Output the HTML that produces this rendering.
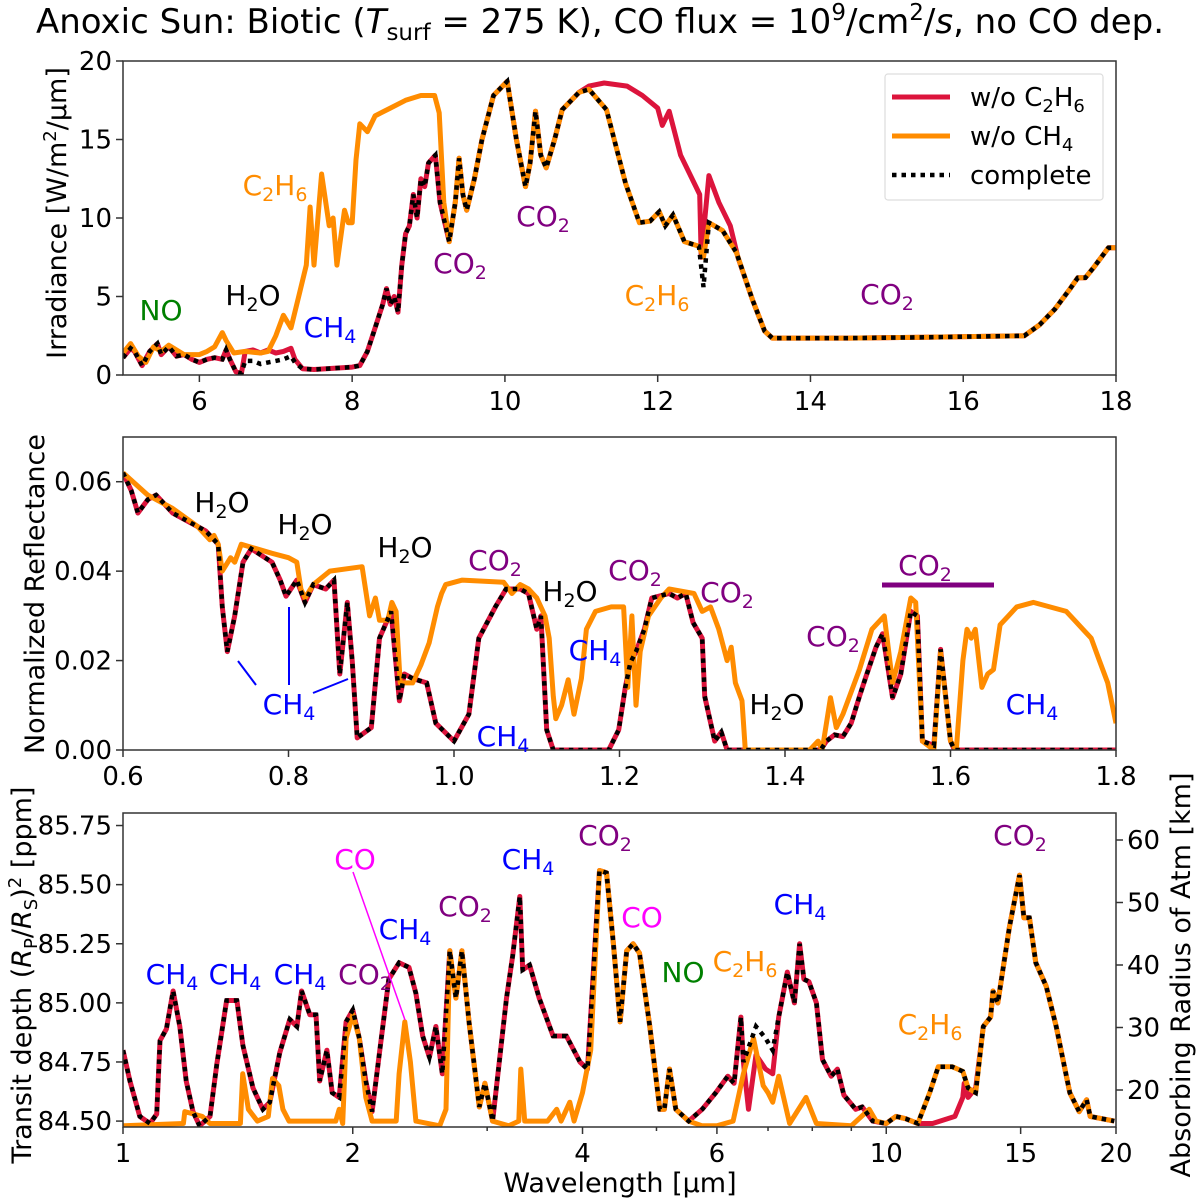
<!DOCTYPE html>
<html><head><meta charset="utf-8"><style>
body{margin:0;background:#fff}
svg{display:block;font-family:"DejaVu Sans","Liberation Sans",sans-serif}
</style></head><body>
<svg id="chart" width="1200" height="1199" viewBox="0 0 1200 1199" xmlns="http://www.w3.org/2000/svg">
<text x="600" y="33" font-size="34" text-anchor="middle">Anoxic Sun: Biotic (<tspan font-style="italic">T</tspan><tspan font-size="23" dy="7">surf</tspan><tspan dy="-7"> = 275 K), CO flux = 10</tspan><tspan font-size="23" dy="-13">9</tspan><tspan dy="13">/cm</tspan><tspan font-size="23" dy="-13">2</tspan><tspan dy="13">/</tspan><tspan font-style="italic">s</tspan>, no CO dep.</text>
<g id="p1"></g>
<g id="p2"></g>
<g id="p3"></g>
</svg>
<script>
// ---------- Panel 1 data (irradiance) ----------
const irrCompleteX=[5.0,5.1,5.15,5.25,5.35,5.45,5.5,5.6,5.7,5.8,5.9,6.0,6.1,6.2,6.3,6.35,6.4,6.48,6.55,6.6,6.7,6.8,6.9,7.0,7.1,7.2,7.25,7.35,7.5,8.0,8.1,8.2,8.3,8.4,8.45,8.5,8.55,8.6,8.65,8.7,8.75,8.8,8.85,8.9,8.95,9.0,9.09,9.15,9.27,9.35,9.4,9.45,9.5,9.6,9.7,9.85,10.03,10.15,10.27,10.33,10.4,10.47,10.54,10.65,10.75,10.97,11.1,11.33,11.58,11.76,11.9,12.02,12.1,12.2,12.35,12.54,12.6,12.67,12.85,13.03,13.24,13.4,13.5,14.5,15.5,16.8,17.0,17.2,17.4,17.5,17.6,17.7,17.9,18.0];
const irrCompleteY=[1.1,1.7,1.5,0.6,1.5,2.0,1.3,1.8,1.2,1.3,1.0,0.8,1.0,1.1,1.0,1.6,1.0,0.2,0.1,0.9,0.9,0.7,0.8,0.9,1.0,1.2,0.8,0.4,0.35,0.5,0.6,1.5,3.0,4.5,5.5,4.5,5.0,4.0,7.0,9.0,9.5,11.5,10.0,12.5,12.0,13.5,14.0,11.0,8.5,11.0,13.8,11.5,10.5,12.5,15.0,17.8,18.7,15.0,12.0,13.5,16.8,14.0,13.2,15.0,16.9,18.0,18.2,16.9,12.2,9.7,9.8,10.4,9.5,10.2,8.5,8.2,5.6,9.7,9.2,7.8,4.8,2.8,2.35,2.35,2.4,2.5,3.2,4.2,5.5,6.2,6.2,6.8,8.1,8.1];
const irrRedX=[5.0,5.1,5.15,5.25,5.35,5.45,5.5,5.6,5.7,5.8,5.9,6.0,6.1,6.2,6.3,6.35,6.4,6.48,6.55,6.6,6.7,6.8,6.9,7.0,7.1,7.2,7.25,7.35,7.5,8.0,8.1,8.2,8.3,8.4,8.45,8.5,8.55,8.6,8.65,8.7,8.75,8.8,8.85,8.9,8.95,9.0,9.09,9.15,9.27,9.35,9.4,9.45,9.5,9.6,9.7,9.85,10.03,10.15,10.27,10.33,10.4,10.47,10.54,10.65,10.75,10.97,11.1,11.3,11.6,11.8,12.0,12.06,12.15,12.3,12.5,12.55,12.57,12.67,12.8,12.95,13.05,13.24,13.4,13.5,14.5,15.5,16.8,17.0,17.2,17.4,17.5,17.6,17.7,17.9,18.0];
const irrRedY=[1.1,1.7,1.5,0.6,1.5,2.0,1.3,1.8,1.2,1.3,1.0,0.8,1.0,1.1,1.0,1.6,1.0,0.2,0.1,1.5,1.6,1.4,1.6,1.4,1.5,1.7,1.0,0.4,0.35,0.5,0.6,1.5,3.0,4.5,5.5,4.5,5.0,4.0,7.0,9.0,9.5,11.5,10.0,12.5,12.0,13.5,14.0,11.0,8.5,11.0,13.8,11.5,10.5,12.5,15.0,17.8,18.7,15.0,12.0,13.5,16.8,14.0,13.2,15.0,16.9,18.0,18.4,18.6,18.4,17.8,17.0,15.9,16.8,14.0,12.0,11.5,7.5,12.7,11.0,9.5,7.5,4.8,2.8,2.35,2.35,2.4,2.5,3.2,4.2,5.5,6.2,6.2,6.8,8.1,8.1];
const irrOrangeX=[5.0,5.1,5.2,5.3,5.4,5.5,5.6,5.8,6.0,6.1,6.2,6.3,6.35,6.45,6.6,6.8,6.9,7.0,7.1,7.2,7.3,7.4,7.45,7.5,7.6,7.7,7.75,7.8,7.9,7.95,8.0,8.05,8.1,8.2,8.3,8.5,8.7,8.9,9.08,9.14,9.2,9.27,9.35,9.4,9.45,9.5,9.6,9.7,9.85,10.03,10.15,10.27,10.33,10.4,10.47,10.54,10.65,10.75,10.97,11.1,11.33,11.58,11.76,11.9,12.02,12.1,12.2,12.35,12.54,12.6,12.67,12.85,13.03,13.24,13.4,13.5,14.5,15.5,16.8,17.0,17.2,17.4,17.5,17.6,17.7,17.9,18.0];
const irrOrangeY=[1.4,2.0,1.2,0.8,1.8,1.5,1.9,1.3,1.3,1.5,1.8,2.7,2.2,1.4,1.5,1.4,1.5,2.5,3.8,3.0,5.0,7.0,10.7,7.0,12.8,9.5,10.0,7.0,10.5,9.7,9.7,13.7,16.0,15.5,16.5,17.0,17.5,17.8,17.8,16.7,11.0,8.5,11.0,13.8,11.5,10.5,12.5,15.0,17.8,18.7,15.0,12.0,13.5,16.8,14.0,13.2,15.0,16.9,18.0,18.2,16.9,12.2,9.7,9.8,10.4,9.5,10.2,8.5,8.2,7.5,9.7,9.2,7.8,4.8,2.8,2.35,2.35,2.4,2.5,3.2,4.2,5.5,6.2,6.2,6.8,8.1,8.1];
const irrXTicks=[6,8,10,12,14,16,18];
const irrYTicks=[0,5,10,15,20];

// ---------- Panel 2 data (reflectance) ----------
const refCompleteX=[0.6,0.61,0.618,0.63,0.64,0.66,0.68,0.7,0.71,0.715,0.72,0.726,0.735,0.745,0.755,0.78,0.79,0.797,0.81,0.82,0.83,0.845,0.855,0.862,0.871,0.877,0.883,0.9,0.91,0.924,0.934,0.94,0.95,0.967,0.978,1.0,1.018,1.03,1.05,1.063,1.08,1.09,1.1,1.105,1.112,1.12,1.187,1.199,1.207,1.213,1.22,1.23,1.239,1.26,1.27,1.28,1.289,1.3,1.303,1.315,1.323,1.33,1.443,1.45,1.46,1.47,1.48,1.49,1.498,1.51,1.518,1.53,1.54,1.552,1.56,1.566,1.58,1.588,1.6,1.605,1.8];
const refCompleteY=[0.062,0.058,0.053,0.056,0.057,0.053,0.051,0.049,0.047,0.046,0.032,0.022,0.03,0.042,0.045,0.042,0.038,0.0344,0.038,0.033,0.037,0.036,0.038,0.017,0.033,0.02,0.0027,0.005,0.025,0.031,0.011,0.017,0.016,0.015,0.006,0.002,0.008,0.025,0.032,0.036,0.036,0.035,0.027,0.03,0.0045,0.0,0.0,0.0045,0.014,0.0195,0.022,0.027,0.034,0.035,0.034,0.035,0.0285,0.025,0.012,0.002,0.004,0.0,0.0,0.002,0.0034,0.003,0.006,0.012,0.0165,0.023,0.026,0.0117,0.017,0.031,0.03,0.002,0.001,0.0225,0.002,0.0,0.0];
const refRedX=refCompleteX;
const refRedY=refCompleteY;
const refOrangeX=[0.6,0.63,0.66,0.69,0.705,0.71,0.715,0.72,0.73,0.735,0.743,0.78,0.8,0.81,0.815,0.82,0.83,0.85,0.889,0.898,0.905,0.91,0.92,0.925,0.93,0.935,0.95,0.96,0.97,0.98,0.985,0.99,1.01,1.06,1.07,1.08,1.09,1.1,1.11,1.115,1.12,1.123,1.13,1.138,1.145,1.154,1.16,1.171,1.19,1.205,1.21,1.215,1.22,1.225,1.235,1.25,1.26,1.29,1.3,1.31,1.32,1.33,1.335,1.34,1.348,1.352,1.43,1.44,1.445,1.455,1.462,1.47,1.49,1.505,1.52,1.53,1.54,1.552,1.558,1.566,1.58,1.588,1.6,1.607,1.615,1.62,1.625,1.63,1.638,1.645,1.652,1.66,1.67,1.68,1.7,1.72,1.74,1.75,1.76,1.77,1.78,1.79,1.8];
const refOrangeY=[0.062,0.057,0.054,0.05,0.047,0.048,0.046,0.04,0.043,0.042,0.046,0.044,0.043,0.042,0.036,0.034,0.037,0.04,0.041,0.03,0.034,0.029,0.029,0.033,0.031,0.015,0.015,0.019,0.024,0.032,0.035,0.037,0.038,0.0375,0.035,0.037,0.036,0.034,0.03,0.025,0.012,0.007,0.01,0.0157,0.008,0.016,0.027,0.031,0.032,0.032,0.014,0.03,0.01,0.022,0.03,0.034,0.036,0.035,0.031,0.032,0.027,0.02,0.023,0.015,0.011,0.0,0.0,0.002,0.0,0.0117,0.005,0.008,0.018,0.027,0.03,0.015,0.022,0.034,0.033,0.002,0.0,0.022,0.002,0.0,0.02,0.027,0.025,0.027,0.014,0.017,0.018,0.028,0.03,0.032,0.033,0.032,0.031,0.029,0.027,0.025,0.02,0.015,0.006];
const refXTicks=[0.6,0.8,1.0,1.2,1.4,1.6,1.8];
const refXLabels=["0.6","0.8","1.0","1.2","1.4","1.6","1.8"];
const refYTicks=[0,0.02,0.04,0.06];
const refYLabels=["0.00","0.02","0.04","0.06"];

// ---------- Panel 3 data (transit depth) ----------
const trCompleteX=[1.0,1.021,1.052,1.085,1.107,1.118,1.14,1.163,1.187,1.21,1.235,1.26,1.3,1.327,1.367,1.41,1.436,1.48,1.525,1.557,1.605,1.654,1.69,1.714,1.757,1.79,1.81,1.85,1.88,1.92,1.96,2.0,2.04,2.08,2.12,2.17,2.23,2.3,2.37,2.42,2.47,2.52,2.57,2.62,2.68,2.73,2.78,2.84,2.93,2.98,3.05,3.18,3.24,3.31,3.34,3.41,3.51,3.66,3.81,3.97,4.06,4.21,4.3,4.39,4.48,4.57,4.66,4.75,4.9,5.05,5.12,5.2,5.3,5.51,5.74,5.98,6.2,6.32,6.45,6.5,6.75,6.95,7.1,7.23,7.42,7.58,7.7,7.8,7.92,8.1,8.25,8.47,8.63,8.8,9.12,9.3,9.6,10.0,10.3,10.6,11.0,11.4,11.7,12.2,12.6,12.8,13.1,13.4,13.7,13.8,14.0,14.5,14.95,15.15,15.4,15.7,16.2,16.7,17.4,17.9,18.3,18.5,19.9];
const trCompleteY=[84.8,84.67,84.52,84.49,84.53,84.84,84.89,85.05,84.9,84.67,84.54,84.48,84.52,84.74,85.01,85.01,84.82,84.64,84.55,84.58,84.79,84.93,84.9,85.05,84.95,84.95,84.67,84.8,84.62,84.6,84.92,84.97,84.85,84.67,84.54,84.8,85.1,85.17,85.15,85.04,84.86,84.77,84.9,84.7,85.22,85.02,85.22,84.92,84.56,84.66,84.5,85.02,85.2,85.45,85.14,85.16,85.02,84.86,84.86,84.75,84.72,85.56,85.55,85.25,84.92,85.22,85.25,85.21,84.9,84.55,84.55,84.72,84.55,84.5,84.55,84.62,84.69,84.66,84.94,84.75,84.9,84.85,84.8,84.94,85.13,85.0,85.25,85.1,85.09,85.0,84.76,84.69,84.72,84.61,84.55,84.56,84.5,84.49,84.52,84.51,84.49,84.62,84.73,84.73,84.71,84.64,84.62,84.9,84.94,85.05,85.0,85.32,85.54,85.36,85.36,85.17,85.07,84.9,84.62,84.54,84.59,84.52,84.5];
const trRedX=[1.0,1.021,1.052,1.085,1.107,1.118,1.14,1.163,1.187,1.21,1.235,1.26,1.3,1.327,1.367,1.41,1.436,1.48,1.525,1.557,1.605,1.654,1.69,1.714,1.757,1.79,1.81,1.85,1.88,1.92,1.96,2.0,2.04,2.08,2.12,2.17,2.23,2.3,2.37,2.42,2.47,2.52,2.57,2.62,2.68,2.73,2.78,2.84,2.93,2.98,3.05,3.18,3.24,3.31,3.34,3.41,3.51,3.66,3.81,3.97,4.06,4.21,4.3,4.39,4.48,4.57,4.66,4.75,4.9,5.05,5.12,5.2,5.3,5.51,5.74,5.98,6.2,6.32,6.45,6.5,6.6,6.75,6.95,7.1,7.23,7.42,7.58,7.7,7.8,7.92,8.1,8.25,8.47,8.63,8.8,9.12,9.3,9.6,10.0,10.3,10.6,11.0,11.5,12.3,12.6,12.65,12.8,13.1,13.4,13.7,13.8,14.0,14.5,14.95,15.15,15.4,15.7,16.2,16.7,17.4,17.9,18.3,18.5,19.9];
const trRedY=[84.8,84.67,84.52,84.49,84.53,84.84,84.89,85.05,84.9,84.67,84.54,84.48,84.52,84.74,85.01,85.01,84.82,84.64,84.55,84.58,84.79,84.93,84.9,85.05,84.95,84.95,84.67,84.8,84.62,84.6,84.92,84.97,84.85,84.67,84.54,84.8,85.1,85.17,85.15,85.04,84.86,84.77,84.9,84.7,85.22,85.02,85.22,84.92,84.56,84.66,84.5,85.02,85.2,85.45,85.14,85.16,85.02,84.86,84.86,84.75,84.72,85.56,85.55,85.25,84.92,85.22,85.25,85.21,84.9,84.55,84.55,84.72,84.55,84.5,84.55,84.62,84.69,84.66,84.94,84.75,84.55,84.78,84.72,84.7,84.94,85.13,85.0,85.25,85.1,85.09,85.0,84.76,84.69,84.72,84.61,84.55,84.56,84.5,84.49,84.52,84.51,84.49,84.49,84.52,84.6,84.66,84.6,84.64,84.9,84.94,85.05,85.0,85.32,85.54,85.36,85.36,85.17,85.07,84.9,84.62,84.54,84.59,84.52,84.5];
const trOrangeX=[1.0,1.2,1.205,1.27,1.3,1.425,1.435,1.46,1.5,1.55,1.57,1.6,1.62,1.65,1.9,1.92,1.94,1.96,2.0,2.04,2.08,2.12,2.28,2.3,2.34,2.38,2.42,2.6,2.65,2.68,2.73,2.78,2.84,2.93,2.98,3.05,3.2,3.3,3.32,3.36,3.6,3.7,3.75,3.85,3.9,4.0,4.1,4.21,4.3,4.39,4.48,4.57,4.66,4.75,4.9,5.05,5.12,5.2,5.3,5.51,5.74,6.0,6.3,6.5,6.7,6.9,7.0,7.1,7.23,7.47,7.85,8.1,9.0,9.5,9.7,10.0,10.3,10.6,11.0,11.4,11.7,12.2,12.6,12.8,13.1,13.4,13.7,13.8,14.0,14.5,14.95,15.15,15.4,15.7,16.2,16.7,17.4,17.9,18.3,18.5,19.9];
const trOrangeY=[84.48,84.49,84.54,84.52,84.49,84.49,84.7,84.55,84.5,84.52,84.68,84.65,84.55,84.5,84.5,84.55,84.49,84.85,84.95,84.85,84.6,84.5,84.5,84.7,84.92,84.75,84.5,84.48,84.55,85.22,85.02,85.22,84.92,84.56,84.66,84.5,84.48,84.5,84.72,84.5,84.5,84.55,84.5,84.58,84.5,84.62,84.8,85.56,85.55,85.25,84.92,85.22,85.25,85.21,84.9,84.55,84.55,84.72,84.55,84.5,84.48,84.48,84.5,84.7,84.85,84.65,84.62,84.58,84.69,84.49,84.6,84.49,84.48,84.55,84.5,84.49,84.52,84.51,84.49,84.62,84.73,84.73,84.71,84.64,84.62,84.9,84.94,85.05,85.0,85.32,85.54,85.36,85.36,85.17,85.07,84.9,84.62,84.54,84.59,84.52,84.5];
const trXMajor=[1,2,4,6,10,15,20];
const trXMinor=[3,5,7,8,9];
const trYTicks=[84.5,84.75,85.0,85.25,85.5,85.75];
const trYLabels=["84.50","84.75","85.00","85.25","85.50","85.75"];
const kmTicks=[20,30,40,50,60];

const NS="http://www.w3.org/2000/svg";
function mk(tag,attrs,parent){const e=document.createElementNS(NS,tag);for(const k in attrs)e.setAttribute(k,attrs[k]);parent.appendChild(e);return e;}

const P1={l:123,r:1116,t:61,b:375,x0:5,x1:18,y0:0,y1:20};
const P2={l:123,r:1116,t:437,b:750,x0:0.6,x1:1.8,y0:0,y1:0.07};
const P3={l:123,r:1116,t:813,b:1127,x0:1,x1:20,y0:84.475,y1:85.803};
function lin(P){return{sx:v=>P.l+(v-P.x0)/(P.x1-P.x0)*(P.r-P.l),sy:v=>P.b-(v-P.y0)/(P.y1-P.y0)*(P.b-P.t)};}
function logx(P){return{sx:v=>P.l+Math.log10(v/P.x0)/Math.log10(P.x1/P.x0)*(P.r-P.l),sy:v=>P.b-(v-P.y0)/(P.y1-P.y0)*(P.b-P.t)};}
const S1=lin(P1),S2=lin(P2),S3=logx(P3);

function pathD(xs,ys,S){return xs.map((x,i)=>(i?'L':'M')+S.sx(x).toFixed(1)+','+S.sy(ys[i]).toFixed(1)).join('');}
function drawSeries(g,P,S,red,orange,comp,clipId){
  const cp=mk('clipPath',{id:clipId},g);mk('rect',{x:P.l,y:P.t,width:P.r-P.l,height:P.b-P.t},cp);
  const gg=mk('g',{'clip-path':'url(#'+clipId+')'},g);
  const r=mk('path',{d:pathD(red[0],red[1],S),fill:'none',stroke:'#dc143c','stroke-width':5,'stroke-linejoin':'round'},gg);
  
  
  const o=mk('path',{d:pathD(orange[0],orange[1],S),fill:'none',stroke:'#ff8c00','stroke-width':5,'stroke-linejoin':'round'},gg);
  
  
  const c=mk('path',{d:pathD(comp[0],comp[1],S),fill:'none',stroke:'#000','stroke-width':4.5,'stroke-dasharray':'4.5 5'},gg);
  
  
}
function frame(g,P){const f=mk('rect',{x:P.l,y:P.t,width:P.r-P.l,height:P.b-P.t,fill:'none',stroke:'#333','stroke-width':1.5},g);
  
  }
function xtick(g,x,y,label,len){mk('line',{x1:x,x2:x,y1:y,y2:y+len,stroke:'#333','stroke-width':1.5},g);
  if(label!==null){const t=mk('text',{x:x,y:y+35,'font-size':26,'text-anchor':'middle'},g);t.textContent=label;
  
  }}
function ytick(g,x,y,label){mk('line',{x1:x,x2:x-7,y1:y,y2:y,stroke:'#333','stroke-width':1.5},g);
  const t=mk('text',{x:x-11,y:y+9,'font-size':26,'text-anchor':'end'},g);t.textContent=label;
  
  }

const g1=document.getElementById('p1');
drawSeries(g1,P1,S1,[irrRedX,irrRedY],[irrOrangeX,irrOrangeY],[irrCompleteX,irrCompleteY],'c1');
frame(g1,P1);
irrXTicks.forEach(v=>xtick(g1,S1.sx(v),P1.b,String(v),7));
irrYTicks.forEach(v=>ytick(g1,P1.l,S1.sy(v),String(v)));
const g2=document.getElementById('p2');
drawSeries(g2,P2,S2,[refRedX,refRedY],[refOrangeX,refOrangeY],[refCompleteX,refCompleteY],'c2');
frame(g2,P2);
refXTicks.forEach((v,i)=>xtick(g2,S2.sx(v),P2.b,refXLabels[i],7));
refYTicks.forEach((v,i)=>ytick(g2,P2.l,S2.sy(v),refYLabels[i]));
const g3=document.getElementById('p3');
drawSeries(g3,P3,S3,[trRedX,trRedY],[trOrangeX,trOrangeY],[trCompleteX,trCompleteY],'c3');
frame(g3,P3);
trXMajor.forEach(v=>xtick(g3,S3.sx(v),P3.b,String(v),7));
trXMinor.forEach(v=>xtick(g3,S3.sx(v),P3.b,null,4));
trYTicks.forEach((v,i)=>ytick(g3,P3.l,S3.sy(v),trYLabels[i]));
kmTicks.forEach(v=>{const y=1090-(v-20)*6.25;
  mk('line',{x1:P3.r,x2:P3.r+7,y1:y,y2:y,stroke:'#333','stroke-width':1.5},g3);
  const t=mk('text',{x:P3.r+11,y:y+9,'font-size':26},g3);t.textContent=String(v);
  
  });
</script>
<svg style="position:absolute;left:0;top:0" width="1200" height="1199" font-family="DejaVu Sans, Liberation Sans, sans-serif">
<text transform="translate(66,213) rotate(-90)" font-size="27" text-anchor="middle">Irradiance [W/m<tspan font-size="18" dy="-10">2</tspan><tspan dy="10">/μm]</tspan></text>
<text transform="translate(44,594) rotate(-90)" font-size="27" text-anchor="middle">Normalized Reflectance</text>
<text transform="translate(31,975) rotate(-90)" font-size="27" text-anchor="middle">Transit depth (<tspan font-style="italic">R</tspan><tspan font-size="18" dy="6">P</tspan><tspan dy="-6">/</tspan><tspan font-style="italic">R</tspan><tspan font-size="18" dy="6">S</tspan><tspan dy="-6">)</tspan><tspan font-size="18" dy="-10">2</tspan><tspan dy="10"> [ppm]</tspan></text>
<text transform="translate(1190,975) rotate(-90)" font-size="27" text-anchor="middle">Absorbing Radius of Atm [km]</text>
<text x="620" y="1192" font-size="27" text-anchor="middle">Wavelength [μm]</text>
<g>
<rect x="885" y="74" width="218" height="126" rx="3" fill="#fff" fill-opacity="0.85" stroke="#ddd" stroke-width="1.2"/>
<line x1="892" x2="950" y1="97" y2="97" stroke="#dc143c" stroke-width="5"/>
<text x="970" y="106" font-size="26">w/o C<tspan font-size="18" dy="6">2</tspan><tspan dy="-6">H</tspan><tspan font-size="18" dy="6">6</tspan></text>
<line x1="892" x2="950" y1="136" y2="136" stroke="#ff8c00" stroke-width="5"/>
<text x="970" y="145" font-size="26">w/o CH<tspan font-size="18" dy="6">4</tspan></text>
<line x1="892" x2="950" y1="175" y2="175" stroke="#000" stroke-width="4.5" stroke-dasharray="4.5 5"/>
<text x="970" y="184" font-size="26">complete</text>
</g>
<g font-size="28" text-anchor="middle">
<text x="161" y="320" fill="green">NO</text>
<text x="253" y="305">H<tspan font-size="19" dy="6">2</tspan><tspan dy="-6">O</tspan></text>
<text x="330" y="337" fill="blue">CH<tspan font-size="19" dy="6">4</tspan></text>
<text x="275" y="195" fill="#ff8c00">C<tspan font-size="19" dy="6">2</tspan><tspan dy="-6">H</tspan><tspan font-size="19" dy="6">6</tspan></text>
<text x="460" y="273" fill="purple">CO<tspan font-size="19" dy="6">2</tspan></text>
<text x="543" y="226" fill="purple">CO<tspan font-size="19" dy="6">2</tspan></text>
<text x="657" y="305" fill="#ff8c00">C<tspan font-size="19" dy="6">2</tspan><tspan dy="-6">H</tspan><tspan font-size="19" dy="6">6</tspan></text>
<text x="887" y="304" fill="purple">CO<tspan font-size="19" dy="6">2</tspan></text>
</g>
<g font-size="28" text-anchor="middle">
<text x="222" y="512">H<tspan font-size="19" dy="6">2</tspan><tspan dy="-6">O</tspan></text>
<text x="305" y="534">H<tspan font-size="19" dy="6">2</tspan><tspan dy="-6">O</tspan></text>
<text x="405" y="557">H<tspan font-size="19" dy="6">2</tspan><tspan dy="-6">O</tspan></text>
<text x="495" y="570" fill="purple">CO<tspan font-size="19" dy="6">2</tspan></text>
<text x="570" y="601">H<tspan font-size="19" dy="6">2</tspan><tspan dy="-6">O</tspan></text>
<text x="635" y="580" fill="purple">CO<tspan font-size="19" dy="6">2</tspan></text>
<text x="727" y="602" fill="purple">CO<tspan font-size="19" dy="6">2</tspan></text>
<text x="595" y="660" fill="blue">CH<tspan font-size="19" dy="6">4</tspan></text>
<text x="289" y="714" fill="blue">CH<tspan font-size="19" dy="6">4</tspan></text>
<line x1="238" y1="661" x2="256" y2="685" stroke="blue" stroke-width="2"/>
<line x1="289" y1="607" x2="289" y2="685" stroke="blue" stroke-width="2"/>
<line x1="313" y1="693" x2="348" y2="679" stroke="blue" stroke-width="2"/>
<text x="503" y="746" fill="blue">CH<tspan font-size="19" dy="6">4</tspan></text>
<text x="777" y="714">H<tspan font-size="19" dy="6">2</tspan><tspan dy="-6">O</tspan></text>
<text x="833" y="646" fill="purple">CO<tspan font-size="19" dy="6">2</tspan></text>
<text x="925" y="575" fill="purple">CO<tspan font-size="19" dy="6">2</tspan></text>
<line x1="882" y1="585" x2="994" y2="585" stroke="purple" stroke-width="5"/>
<text x="1032" y="714" fill="blue">CH<tspan font-size="19" dy="6">4</tspan></text>
</g>
<g font-size="28" text-anchor="middle">
<text x="172" y="984" fill="blue">CH<tspan font-size="19" dy="6">4</tspan></text>
<text x="235" y="984" fill="blue">CH<tspan font-size="19" dy="6">4</tspan></text>
<text x="300" y="984" fill="blue">CH<tspan font-size="19" dy="6">4</tspan></text>
<text x="365" y="984" fill="purple">CO<tspan font-size="19" dy="6">2</tspan></text>
<text x="355" y="869" fill="magenta">CO</text>
<line x1="353" y1="872" x2="405" y2="1020" stroke="magenta" stroke-width="1.5"/>
<text x="405" y="939" fill="blue">CH<tspan font-size="19" dy="6">4</tspan></text>
<text x="465" y="916" fill="purple">CO<tspan font-size="19" dy="6">2</tspan></text>
<text x="528" y="869" fill="blue">CH<tspan font-size="19" dy="6">4</tspan></text>
<text x="605" y="845" fill="purple">CO<tspan font-size="19" dy="6">2</tspan></text>
<text x="642" y="927" fill="magenta">CO</text>
<text x="683" y="982" fill="green">NO</text>
<text x="745" y="971" fill="#ff8c00">C<tspan font-size="19" dy="6">2</tspan><tspan dy="-6">H</tspan><tspan font-size="19" dy="6">6</tspan></text>
<text x="800" y="914" fill="blue">CH<tspan font-size="19" dy="6">4</tspan></text>
<text x="930" y="1034" fill="#ff8c00">C<tspan font-size="19" dy="6">2</tspan><tspan dy="-6">H</tspan><tspan font-size="19" dy="6">6</tspan></text>
<text x="1020" y="845" fill="purple">CO<tspan font-size="19" dy="6">2</tspan></text>
</g>
</svg>
</body></html>
